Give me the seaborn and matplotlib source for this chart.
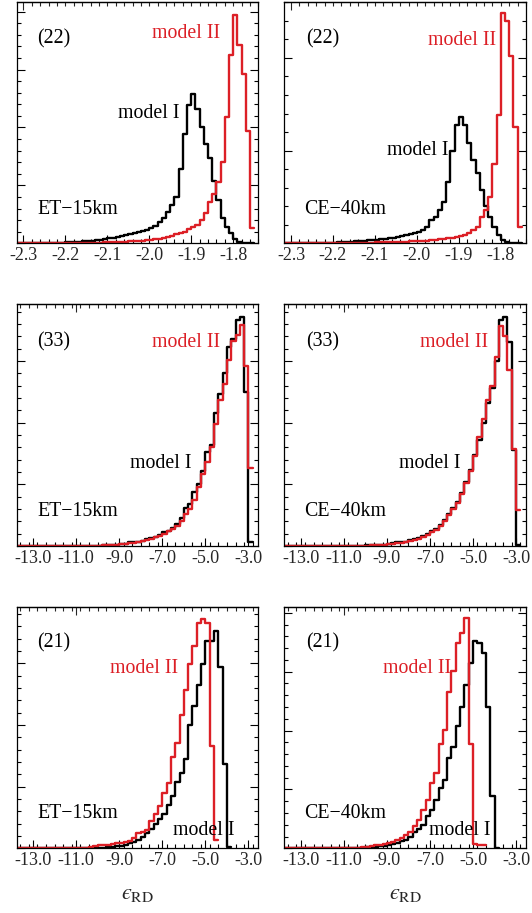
import numpy as np
import matplotlib
matplotlib.use("Agg")
import matplotlib.pyplot as plt
from matplotlib.ticker import MultipleLocator, FormatStrFormatter, FixedLocator, NullFormatter
import seaborn as sns

sns.set_style("white")
plt.rcParams["font.family"] = ["Liberation Serif", "DejaVu Serif"]
plt.rcParams["mathtext.fontset"] = "stix"
plt.rcParams["axes.unicode_minus"] = True

RED = "#DC1F26"
BLACK = "#000000"

# ---- (22) component: bins of 0.01 starting at -2.32 ----
start_22, width_22 = -2.32, 0.01
et_22_model1 = [0, 0, 0, 0, 0, 0.01, 0.01, 0.02, 0.02, 0.03,
                0.04, 0.05, 0.07, 0.09, 0.11, 0.14, 0.17, 0.2, 0.24, 0.28,
                0.32, 0.37, 0.42, 0.48, 0.54, 0.6, 0.68, 0.76, 0.85, 0.95,
                1.05, 1.15, 1.3, 1.5, 1.85, 2.2, 2.7, 3.3, 4.0, 6.4,
                9.4, 11.9, 12.9, 11.6, 10.0, 8.6, 7.4, 5.4, 3.7, 2.2,
                1.4, 0.9, 0.4, 0.1, 0.02, 0, 0]
et_22_model2 = [0, 0, 0, 0, 0, 0, 0, 0, 0, 0, 0, 0,
                0.01, 0.01, 0.02, 0.02, 0.03, 0.03, 0.04, 0.05, 0.06, 0.07,
                0.08, 0.09, 0.1, 0.12, 0.14, 0.16, 0.18, 0.2, 0.23, 0.26,
                0.3, 0.34, 0.4, 0.46, 0.55, 0.65, 0.78, 0.9, 1.0, 1.2,
                1.4, 1.6, 2.0, 2.6, 3.6, 4.3, 5.3, 7.0, 10.9, 16.3,
                19.7, 17.1, 14.6, 9.7, 1.29]
ce_22_model1 = [0, 0, 0, 0, 0, 0.01, 0.01, 0.01, 0.02, 0.02,
                0.03, 0.03, 0.04, 0.05, 0.06, 0.07, 0.08, 0.1, 0.12, 0.14,
                0.16, 0.18, 0.2, 0.22, 0.25, 0.28, 0.31, 0.35, 0.4, 0.45,
                0.5, 0.55, 0.6, 0.72, 0.9, 1.26, 1.44, 1.8, 2.25, 3.3,
                5.0, 6.4, 6.8, 6.4, 5.4, 4.5, 3.8, 2.9, 2.0, 1.44,
                0.9, 0.45, 0.18, 0.05, 0.01, 0, 0]
ce_22_model2 = [0, 0, 0, 0, 0, 0, 0, 0, 0, 0, 0, 0,
                0.01, 0.01, 0.01, 0.02, 0.02, 0.02, 0.03, 0.03, 0.04, 0.04,
                0.05, 0.05, 0.06, 0.06, 0.07, 0.07, 0.08, 0.09, 0.1, 0.11,
                0.12, 0.13, 0.15, 0.17, 0.19, 0.21, 0.24, 0.27, 0.3, 0.35,
                0.4, 0.45, 0.55, 0.72, 0.9, 1.44, 1.8, 2.5, 4.3, 6.9,
                12.4, 12.0, 10.1, 6.3, 0.9]

# ---- (33) and (21) components: bins of 0.2 starting at -13.8 ----
start_lo, width_lo = -13.8, 0.2
et_33_model1 = [0, 0, 0, 0, 0, 0, 0, 0, 0, 0, 0, 0, 0, 0,
                0.01, 0.01, 0.02, 0.02, 0.03, 0.04,
                0.05, 0.06, 0.08, 0.1, 0.15, 0.2, 0.3, 0.35, 0.3, 0.4,
                0.55, 0.65, 0.75, 0.9, 1.1, 1.25, 1.45, 1.75,
                2.3, 3.05, 3.4, 4.35, 5.0, 6.1, 7.6, 8.2, 10.8, 12.3,
                14.0, 16.1, 16.8, 18.3, 18.6, 12.5, 0.35]
et_33_model2 = [0, 0, 0, 0, 0, 0, 0, 0, 0, 0, 0, 0, 0, 0,
                0.01, 0.01, 0.02, 0.02, 0.03,
                0.04, 0.05, 0.06, 0.08, 0.1, 0.13, 0.18, 0.22, 0.27, 0.3,
                0.4, 0.5, 0.6, 0.7, 0.85, 1.0, 1.2, 1.4, 1.6,
                2.0, 2.6, 3.0, 3.7, 4.8, 5.8, 6.8, 8.0, 9.9, 11.8,
                13.1, 15.1, 16.6, 17.1, 17.9, 14.6, 6.35]
ce_33_model1 = [0, 0, 0, 0, 0, 0, 0, 0, 0, 0, 0, 0, 0, 0,
                0.01, 0.01, 0.02, 0.03, 0.04,
                0.05, 0.06, 0.08, 0.1, 0.12, 0.16, 0.22, 0.3, 0.3, 0.35,
                0.45, 0.55, 0.65, 0.8, 1.0, 1.2, 1.4, 1.7, 2.1, 2.6,
                3.1, 3.6, 4.3, 5.2, 6.2, 7.4, 8.6, 10.0, 11.6, 12.8,
                15.0, 18.3, 18.6, 16.5, 7.8, 0.1]
ce_33_model2 = [0, 0, 0, 0, 0, 0, 0, 0, 0, 0, 0, 0, 0, 0,
                0.01, 0.01, 0.02, 0.02, 0.03,
                0.04, 0.05, 0.06, 0.08, 0.1, 0.13, 0.18, 0.22, 0.27, 0.3,
                0.4, 0.5, 0.6, 0.75, 0.9, 1.1, 1.3, 1.6, 2.0, 2.5,
                3.0, 3.5, 4.2, 5.1, 6.1, 7.3, 8.8, 10.3, 11.8, 13.0,
                15.3, 17.8, 17.0, 14.3, 7.9, 2.9]
et_21_model1 = [0, 0, 0, 0, 0, 0, 0, 0, 0, 0, 0, 0, 0, 0, 0,
                0.01, 0.01, 0.02, 0.03,
                0.04, 0.05, 0.07, 0.1, 0.15, 0.2, 0.3, 0.4, 0.5, 0.7,
                0.95, 1.2, 1.6, 2.0, 2.4, 2.8, 3.5, 4.2, 5.4, 6.1,
                7.2, 10.0, 11.5, 13.2, 14.9, 16.8, 16.8, 17.6, 14.7, 6.8,
                0.1]
et_21_model2 = [0, 0, 0, 0, 0, 0, 0, 0, 0, 0, 0, 0, 0, 0, 0,
                0.02, 0.05, 0.1, 0.2,
                0.27, 0.27, 0.3, 0.35, 0.4, 0.45, 0.5, 0.6, 0.8, 1.2,
                1.35, 1.5, 2.2, 2.8, 3.4, 4.5, 5.3, 7.4, 8.5, 10.8,
                12.8, 14.9, 16.4, 18.3, 18.6, 18.3, 8.3, 0.68]
ce_21_model1 = [0, 0, 0, 0, 0, 0, 0, 0, 0, 0, 0, 0, 0, 0, 0,
                0.01, 0.02, 0.03, 0.05,
                0.07, 0.1, 0.13, 0.16, 0.21, 0.28, 0.37, 0.47, 0.58, 0.73,
                1.0, 1.42, 1.68, 2.0, 2.73, 3.26, 4.1, 5.15, 5.78, 7.67,
                8.6, 10.4, 11.97, 13.86, 15.75, 17.64, 17.43, 16.59, 11.97, 4.41,
                0.05]
ce_21_model2 = [0, 0, 0, 0, 0, 0, 0, 0, 0, 0, 0, 0, 0, 0,
                0.01, 0.02, 0.03, 0.05, 0.08,
                0.13, 0.21, 0.28, 0.32, 0.37, 0.42, 0.53, 0.71, 0.84, 1.16,
                1.37, 1.89, 2.42, 3.26, 4.1, 5.57, 6.41, 8.82, 10.08, 13.23,
                15.02, 17.43, 18.27, 19.53, 8.82, 0.37, 0.32, 0.32]

xticks_22 = [-2.3, -2.2, -2.1, -2.0, -1.9, -1.8]
xticks_lo = [-13.0, -11.0, -9.0, -7.0, -5.0, -3.0]

W, H = 532, 913
fig = plt.figure(figsize=(W / 100, H / 100), dpi=100)

SIZE = 241.7
cols = [16.7, 284.3]
rows = [1.6, 304.3, 606.6]


def make_axes(col, row):
    x0, y0 = cols[col], rows[row]
    return fig.add_axes([x0 / W, 1 - (y0 + SIZE) / H, SIZE / W, SIZE / H])


def step_hist(ax, start, width, heights, color):
    edges = start + width * np.arange(len(heights) + 1)
    centers = edges[:-1] + width / 2
    sns.histplot(x=centers, weights=np.asarray(heights, float),
                 bins=edges.tolist(), element="step", fill=False,
                 color=color, linewidth=1.7, ax=ax)


def style_axes(ax, xlim, ylim, xticks, xminor, top_major, ymajor, yminor):
    ax.set_xlim(*xlim)
    ax.set_ylim(*ylim)
    ax.set_xlabel("")
    ax.set_ylabel("")
    ax.xaxis.set_major_locator(FixedLocator(xticks))
    ax.xaxis.set_minor_locator(MultipleLocator(xminor))
    ax.xaxis.set_major_formatter(FormatStrFormatter("%.1f"))
    ax.yaxis.set_major_locator(MultipleLocator(ymajor))
    ax.yaxis.set_minor_locator(MultipleLocator(yminor))
    ax.tick_params(which="both", direction="in", bottom=True, top=False,
                   left=True, right=True, labelleft=False, width=0.8,
                   color="black")
    ax.tick_params(which="major", length=5.5, labelsize=13, pad=3)
    ax.tick_params(which="minor", length=2.8)
    for s in ax.spines.values():
        s.set_linewidth(0.9)
        s.set_color("black")
    sec = ax.secondary_xaxis("top")
    sec.xaxis.set_major_locator(FixedLocator([top_major]))
    sec.xaxis.set_minor_locator(MultipleLocator(xminor))
    sec.xaxis.set_major_formatter(NullFormatter())
    sec.tick_params(which="both", direction="in", width=0.8)
    sec.tick_params(which="major", length=5.5)
    sec.tick_params(which="minor", length=2.8)
    sec.spines["top"].set_linewidth(0.9)


def label(ax, x, y, s, color="black", size=14.3):
    ax.text(x, y, s, transform=ax.transAxes, color=color, fontsize=size,
            ha="left", va="center")


panels = [
    # col, row, start, width, model I, model II, detector, component, ylim top
    (0, 0, start_22, width_22, et_22_model1, et_22_model2, "ET\u221215km", "(22)", 20.87),
    (1, 0, start_22, width_22, ce_22_model1, ce_22_model2, "CE\u221240km", "(22)", 13.04),
    (0, 1, start_lo, width_lo, et_33_model1, et_33_model2, "ET\u221215km", "(33)", 19.59),
    (1, 1, start_lo, width_lo, ce_33_model1, ce_33_model2, "CE\u221240km", "(33)", 19.59),
    (0, 2, start_lo, width_lo, et_21_model1, et_21_model2, "ET\u221215km", "(21)", 19.59),
    (1, 2, start_lo, width_lo, ce_21_model1, ce_21_model2, "CE\u221240km", "(21)", 20.52),
]

# text positions (axes fraction) for: component, model II, model I, detector
text_pos = {
    (0, 0): [(0.084, 0.845), (0.56, 0.87), (0.419, 0.539), (0.084, 0.138)],
    (1, 0): [(0.09, 0.845), (0.595, 0.841), (0.425, 0.386), (0.081, 0.138)],
    (0, 1): [(0.084, 0.844), (0.56, 0.84), (0.469, 0.343), (0.084, 0.141)],
    (1, 1): [(0.09, 0.844), (0.561, 0.84), (0.474, 0.343), (0.081, 0.141)],
    (0, 2): [(0.084, 0.849), (0.386, 0.742), (0.647, 0.072), (0.084, 0.142)],
    (1, 2): [(0.09, 0.849), (0.408, 0.742), (0.60, 0.072), (0.081, 0.142)],
}

for col, row, start, width, m1, m2, det, comp, ytop in panels:
    ax = make_axes(col, row)
    step_hist(ax, start, width, m1, BLACK)
    step_hist(ax, start, width, m2, RED)
    if row == 0:
        style_axes(ax, (-2.316, -1.740), (0, ytop), xticks_22, 0.02, -2.3, 5, 1)
    else:
        style_axes(ax, (-13.76, -2.54), (0, ytop), xticks_lo, 0.4, -11.0, 5, 1)
    p = text_pos[(col, row)]
    label(ax, *p[0], comp)
    label(ax, *p[1], "model II", color=RED)
    label(ax, *p[2], "model I")
    label(ax, *p[3], det)
    if row == 2:
        ax.set_xlabel("$\u03f5_{\\mathrm{RD}}$", fontsize=16, labelpad=11)

fig.savefig("out.png", dpi=100)
